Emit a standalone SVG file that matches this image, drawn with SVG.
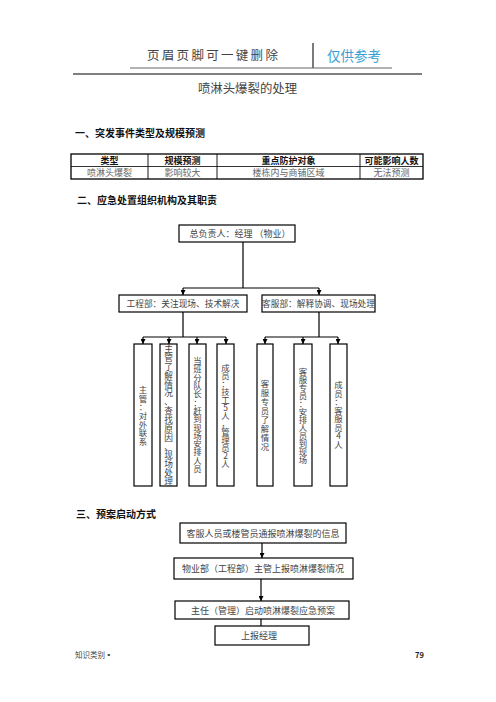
<svg xmlns="http://www.w3.org/2000/svg" width="496" height="702" viewBox="0 0 496 702">
<defs>
<marker id="arr" viewBox="0 0 10 10" refX="10" refY="5" markerWidth="5" markerHeight="5" markerUnits="userSpaceOnUse" orient="auto">
<path d="M0,0 L10,5 L0,10 Z" fill="#000"/>
</marker>
<style>
text{font-family:"Noto Sans CJK SC","Liberation Serif",serif;fill:#444;}
.b{font-weight:bold;fill:#111;}
.box{fill:#fff;stroke:#000;stroke-width:1.2;}
.ln{fill:none;stroke:#000;stroke-width:1.2;}
.t{font-size:9px;text-anchor:middle;dominant-baseline:central;}
.v{font-size:8.4px;text-anchor:middle;dominant-baseline:central;}
.h{font-size:10px;font-weight:bold;fill:#111;}
</style>
</defs>
<rect width="496" height="702" fill="#fff"/>
<g id="page-header">
<text x="147" y="60" style="font-size:12.5px;letter-spacing:2.3px;fill:#444;">页眉页脚可一键删除</text>
<line x1="313" y1="43" x2="313" y2="68" stroke="#222" stroke-width="1.2"/>
<text x="327" y="61" style="font-size:13.5px;fill:#3a9fd6;">仅供参考</text>
<line x1="130" y1="68" x2="392" y2="68" stroke="#666" stroke-width="1"/>
<line x1="73" y1="74" x2="422" y2="74" stroke="#000" stroke-width="1.2"/>
</g>
<text id="title" x="247.5" y="88" class="t" style="font-size:12.4px;">喷淋头爆裂的处理</text>
<text id="sec1" x="75" y="136.5" class="h">一、突发事件类型及规模预测</text>
<g id="table">
<rect x="71" y="154" width="352" height="25" fill="none" stroke="#000" stroke-width="1.3"/>
<line x1="71" y1="166.5" x2="423" y2="166.5" stroke="#000" stroke-width="0.8"/>
<line x1="148" y1="154" x2="148" y2="179" stroke="#000" stroke-width="0.9"/>
<line x1="217" y1="154" x2="217" y2="179" stroke="#000" stroke-width="0.9"/>
<line x1="360" y1="154" x2="360" y2="179" stroke="#000" stroke-width="0.9"/>
<text class="t b" x="109.5" y="160.3">类型</text>
<text class="t b" x="182.5" y="160.3">规模预测</text>
<text class="t b" x="288.5" y="160.3">重点防护对象</text>
<text class="t b" x="391.5" y="160.3">可能影响人数</text>
<text class="t" x="109.5" y="172.8" style="fill:#666;">喷淋头爆裂</text>
<text class="t" x="182.5" y="172.8" style="fill:#666;">影响较大</text>
<text class="t" x="288.5" y="172.8" style="fill:#666;">楼栋内与商铺区域</text>
<text class="t" x="391.5" y="172.8" style="fill:#666;">无法预测</text>
</g>
<text id="sec2" x="77" y="203.5" class="h">二、应急处置组织机构及其职责</text>
<g id="connectors">
<path class="ln" d="M243,242 V288 M183,288 H319"/>
<path class="ln" d="M183,288 V295" marker-end="url(#arr)"/>
<path class="ln" d="M319,288 V295" marker-end="url(#arr)"/>
<path class="ln" d="M183,312 V337 M143,337 H226 M319,312 V337 M265,337 H338"/>
<path class="ln" d="M143,337 V344" marker-end="url(#arr)"/>
<path class="ln" d="M169,337 V344" marker-end="url(#arr)"/>
<path class="ln" d="M197,337 V344" marker-end="url(#arr)"/>
<path class="ln" d="M226,337 V344" marker-end="url(#arr)"/>
<path class="ln" d="M265,337 V344" marker-end="url(#arr)"/>
<path class="ln" d="M303,337 V344" marker-end="url(#arr)"/>
<path class="ln" d="M338,337 V344" marker-end="url(#arr)"/>
<path class="ln" d="M262,543 V558" marker-end="url(#arr)"/>
<path class="ln" d="M261,579 V601" marker-end="url(#arr)"/>
<path class="ln" d="M261,619 V626"/>
</g>
<g id="n-top"><rect class="box" x="179" y="225" width="116" height="17"/><text class="t" x="240" y="233.5">总负责人：经理 （物业）</text></g>
<g id="n-eng"><rect class="box" x="119" y="295" width="128" height="17"/><text class="t" x="183" y="303.5" style="font-size:8.7px;">工程部：关注现场、技术解决</text></g>
<g id="n-cs"><rect class="box" x="262" y="295" width="113" height="17"/><text class="t" x="318.5" y="303.5" style="font-size:8.7px;">客服部：解释协调、现场处理</text></g>
<g id="n-e1"><rect class="box" x="134" y="344" width="18" height="142"/>
<text class="v" x="143 143 143 143 143 143 143" y="389.2 397.8 406.4 415 423.6 432.2 440.8">主管：对外联系</text></g>
<g id="n-e2"><rect class="box" x="160" y="344" width="17" height="142"/>
<text class="v" style="font-size:8.7px;" x="168.5 168.5 168.5 168.5 168.5 168.5 168.5 168.5 168.5 168.5 168.5 168.5 168.5 168.5 168.5 168.5" y="348.6 357.5 366.3 375.2 384 392.9 401.7 410.6 419.4 428.3 437.1 446 454.8 463.7 472.5 481.4">主管了解情况、查找原因、现场处理</text></g>
<g id="n-e3"><rect class="box" x="189" y="344" width="17" height="142"/>
<text class="v" x="197.5 197.5 197.5 197.5 197.5 197.5 197.5 197.5 197.5 197.5 197.5 197.5 197.5 197.5" y="360 368.4 376.7 385 393.3 401.6 409.9 418.2 426.5 434.8 443.1 451.4 459.7 468">当班分队长：赶到现场安排人员</text></g>
<g id="n-e4"><rect class="box" x="217" y="344" width="17" height="142"/>
<text class="v" x="225.5 225.5 225.5 225.5 225.5 225.5 225.5 225.5 225.5 225.5 225.5 225.5 225.5" y="367 375 383 391 399 407 415 423 431 439 447 455 463">成员：技工5人，管理员2人</text></g>
<g id="n-c1"><rect class="box" x="257" y="344" width="16" height="142"/>
<text class="v" x="265 265 265 265 265 265 265 265" y="383.4 392.3 401.2 410.1 419 427.9 436.8 445.7">客服专员了解情况</text></g>
<g id="n-c2"><rect class="box" x="294" y="344" width="18" height="142"/>
<text class="v" x="303 303 303 303 303 303 303 303 303 303 303 303" y="371 379 387 395 403 411 419 427 435 443 451 459">客服专员：安排人员到现场</text></g>
<g id="n-c3"><rect class="box" x="330" y="344" width="17" height="142"/>
<text class="v" x="338.5 338.5 338.5 338.5 338.5 338.5 338.5 338.5" y="384.3 392.8 401.3 409.8 418.3 426.8 435.3 443.8">成员：客服员4人</text></g>
<text id="sec3" x="76" y="517.5" class="h">三、预案启动方式</text>
<g id="n-f1"><rect class="box" x="180" y="523" width="166" height="20"/><text class="t" x="263" y="533">客服人员或楼管员通报喷淋爆裂的信息</text></g>
<g id="n-f2"><rect class="box" x="174" y="558" width="179" height="21"/><text class="t" x="263" y="568.5">物业部（工程部）主管上报喷淋爆裂情况</text></g>
<g id="n-f3"><rect class="box" x="175" y="601" width="174" height="18"/><text class="t" x="263" y="610">主任（管理）启动喷淋爆裂应急预案</text></g>
<g id="n-f4"><rect class="box" x="215" y="626" width="94" height="19"/><text class="t" x="259" y="635.5">上报经理</text></g>
<g id="footer">
<text x="75" y="658" style="font-size:7.5px;fill:#444;">知识类别▪</text>
<text x="415" y="658" style="font-size:7.5px;font-weight:bold;fill:#222;">79</text>
</g>
</svg>
